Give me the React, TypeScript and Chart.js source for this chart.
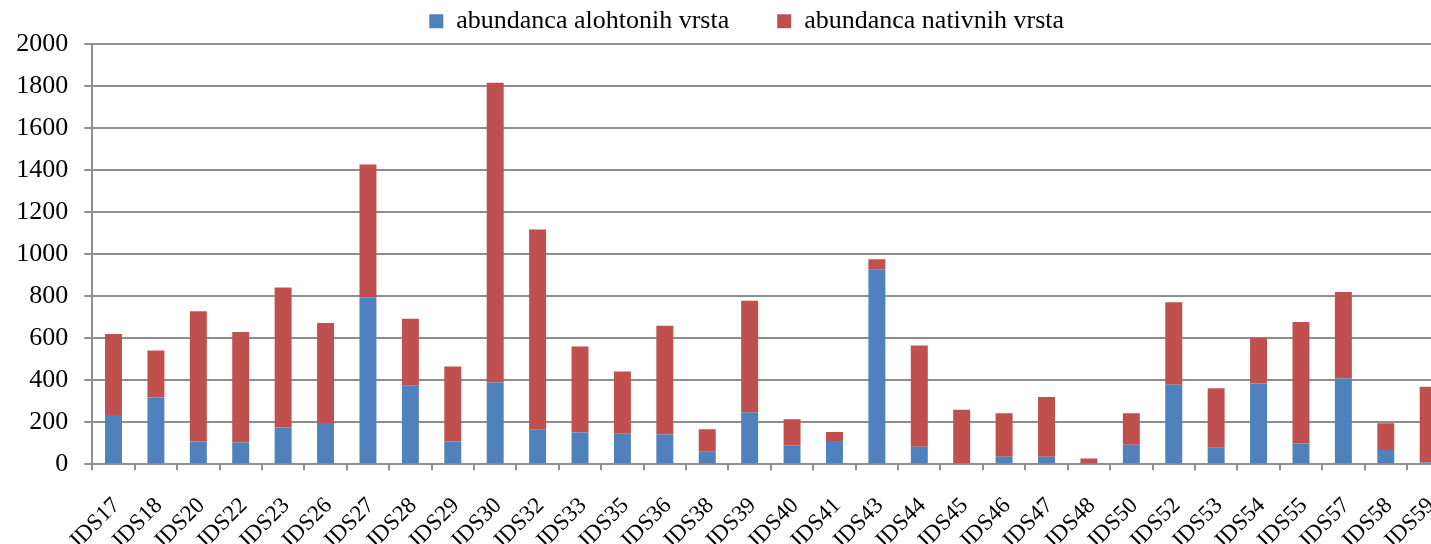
import React, { useEffect, useRef } from "react";
import { Chart, registerables } from "chart.js";

Chart.register(...registerables);

const categories = [
  "JDS17", "JDS18", "JDS20", "JDS22", "JDS23", "JDS26", "JDS27", "JDS28", "JDS29", "JDS30",
  "JDS32", "JDS33", "JDS35", "JDS36", "JDS38", "JDS39", "JDS40", "JDS41", "JDS43", "JDS44",
  "JDS45", "JDS46", "JDS47", "JDS48", "JDS50", "JDS52", "JDS53", "JDS54", "JDS55", "JDS57",
  "JDS58", "JDS59",
];

const alohtoni = [
  235, 318, 109, 104, 175, 197, 795, 377, 109, 390,
  165, 152, 145, 142, 60, 248, 89, 111, 929, 84,
  5, 36, 36, 0, 93, 379, 79, 385, 99, 408,
  68, 8,
];

const nativni = [
  385, 224, 620, 526, 667, 476, 633, 316, 357, 1427,
  953, 409, 297, 518, 107, 531, 125, 43, 47, 482,
  255, 207, 285, 28, 150, 393, 283, 219, 579, 412,
  127, 361,
];

const seriesNames = ["abundanca alohtonih vrsta", "abundanca nativnih vrsta"];
const yTicks = { min: 0, max: 2000, step: 200 };

const FONT = "'Liberation Serif', 'Times New Roman', serif";

const shiftLegend = {
  id: "shiftLegend",
  afterLayout(chart: any) {
    const l = chart.legend;
    if (l) {
      l.left += 22;
      l.right += 22;
    }
  },
};

export default function App() {
  const ref = useRef<HTMLCanvasElement | null>(null);

  useEffect(() => {
    if (!ref.current) return;
    const chart = new Chart(ref.current, {
      type: "bar",
      data: {
        labels: categories,
        datasets: [
          {
            label: seriesNames[0],
            data: alohtoni,
            backgroundColor: "#4F81BD",
            barPercentage: 0.4,
            categoryPercentage: 1.0,
          },
          {
            label: seriesNames[1],
            data: nativni,
            backgroundColor: "#C0504D",
            barPercentage: 0.4,
            categoryPercentage: 1.0,
          },
        ],
      },
      plugins: [shiftLegend],
      options: {
        responsive: false,
        animation: false,
        devicePixelRatio: 1,
        layout: { padding: { top: -39.7, left: 0, right: 10.6, bottom: 0 } },
        plugins: {
          legend: {
            position: "top",
            labels: {
              font: { family: FONT, size: 26 },
              color: "#000",
              boxWidth: 14,
              boxHeight: 14,
              padding: 48,
            },
          },
          tooltip: { enabled: false },
        },
        scales: {
          x: {
            stacked: true,
            afterFit: (s: any) => {
              s.height = 79.7;
              s.paddingLeft = 0;
              s.paddingRight = 0;
            },
            grid: {
              drawOnChartArea: false,
              drawTicks: true,
              tickLength: 6,
              color: "#8e8e8e",
              lineWidth: 2,
              offset: true,
            },
            border: { display: true, color: "#8e8e8e", width: 2 },
            ticks: {
              autoSkip: false,
              minRotation: 45,
              maxRotation: 45,
              color: "#000",
              font: { family: FONT, size: 23 },
              padding: 22,
              labelOffset: 3,
            },
          },
          y: {
            stacked: true,
            min: yTicks.min,
            max: yTicks.max,
            afterFit: (s: any) => {
              s.width = 92.3;
            },
            grid: {
              color: "#8e8e8e",
              lineWidth: 2,
              tickLength: 8,
            },
            border: { display: true, color: "#8e8e8e", width: 2 },
            ticks: {
              stepSize: yTicks.step,
              color: "#000",
              font: { family: FONT, size: 26 },
              padding: 16,
              callback: (v: any) => String(v),
            },
          },
        },
      },
    });
    return () => chart.destroy();
  }, []);

  return (
    <div
      style={{
        position: "fixed",
        left: 0,
        top: 0,
        width: 1431,
        height: 544,
        overflow: "hidden",
        background: "#fff",
      }}
    >
      <canvas ref={ref} width={1460} height={544} style={{ display: "block" }} />
    </div>
  );
}
